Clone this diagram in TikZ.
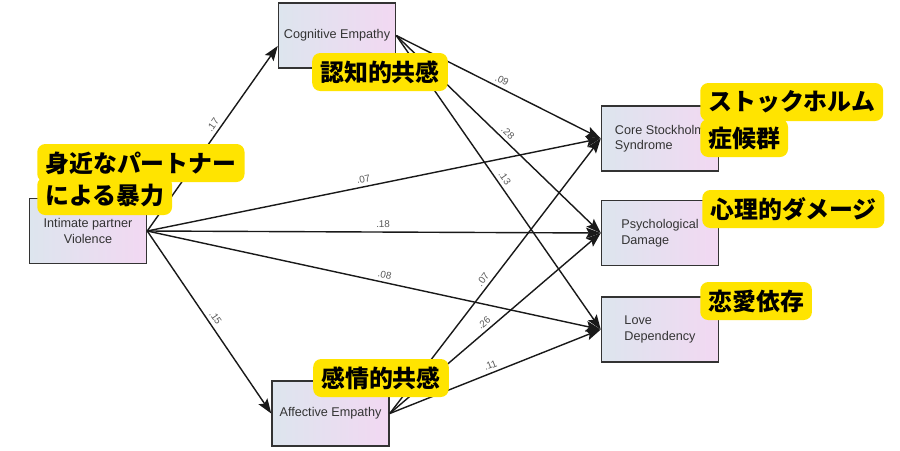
\documentclass[tikz,border=0pt]{standalone}
\usepackage{fontspec}
\setmainfont{Liberation Sans}
\newfontfamily\jpfont{Noto Sans CJK JP}
\usetikzlibrary{positioning}
\usetikzlibrary{arrows.meta}
\definecolor{boxleft}{RGB}{221,229,238}
\definecolor{boxright}{RGB}{242,216,242}
\definecolor{callout}{RGB}{255,228,0}
\definecolor{boxtext}{RGB}{51,51,51}

\begin{document}
\begin{tikzpicture}[x=0.025cm,y=-0.025cm]
\useasboundingbox (0,0) rectangle (900,450);
\fill [white] (0,0) rectangle (900,450);

\begin{scope}[every node/.style={rectangle,draw=black!80,line width=0.9pt,left color=boxleft,right color=boxright,
              minimum width=2.93cm,minimum height=1.62cm,inner sep=2pt,text=boxtext,font=\fontsize{9}{11}\selectfont}]
    \node [align=center] (IPV) at (88,231) {Intimate partner\\Violence};
    \node (CE) at (337,35.5) {Cognitive Empathy};
    \node (AE) at (330.5,413.5) {Affective Empathy};

    \node [align=left] (CSS) at (660,138.5) {Core Stockholm\\Syndrome};
    \node [align=left] (PD) at (660,233) {Psychological\\Damage};
    \node [align=left] (LD) at (660,329.5) {Love\\Dependency};
\end{scope}

\begin{scope}[>={Stealth[length=10.5pt,width=7.5pt,inset=2pt]},
              link/.style={->,draw=black!90,line width=1pt},
              every node/.style={sloped,above,inner sep=2.5pt,text=black!65,font=\fontsize{7}{8}\selectfont}]
     \draw [link] (IPV.east) -- node[pos=0.55] {.17} (CE.190);
     \draw [link] (IPV.east) -- node[pos=0.5] {.15} (AE.west);

     \draw [link] (IPV.east) -- node[pos=0.48] {.07} (CSS.west);
     \draw [link] (IPV.east) -- node[pos=0.52] {.18} (PD.west);
     \draw [link] (IPV.east) -- node[pos=0.52] {.08} (LD.west);

     \draw [link] (CE.east) -- node[pos=0.5] {.09} (CSS.west);
     \draw [link] (CE.east) -- node[pos=0.52] {.28} (PD.west);
     \draw [link] (CE.east) -- node[pos=0.5] {.13} (LD.west);

     \draw [link] (AE.east) -- node[pos=0.47] {.07} (CSS.west);
     \draw [link] (AE.east) -- node[pos=0.47] {.26} (PD.west);
     \draw [link] (AE.east) -- node[pos=0.49] {.11} (LD.west);
\end{scope}

\begin{scope}[every node/.style={fill=callout,rounded corners=0.2cm,minimum height=0.95cm,inner xsep=0.2cm,
              font=\jpfont\bfseries\fontsize{17}{20}\selectfont}]
    \node [anchor=west] (jIPVb) at (37,196) {による暴力};
    \node [anchor=west] (jIPVa) at (37,163) {身近なパートナー};
    \node (jCE) at (380,72) {認知的共感};
    \node (jAE) at (381,378) {感情的共感};

    \node [anchor=west] (jCSSb) at (700,138) {症候群};
    \node [anchor=west] (jCSSa) at (700,102) {ストックホルム};
    \node [anchor=west] (jPD) at (702,209) {心理的ダメージ};
    \node [anchor=west] (jLD) at (700,301) {恋愛依存};
\end{scope}
\end{tikzpicture}
\end{document}
